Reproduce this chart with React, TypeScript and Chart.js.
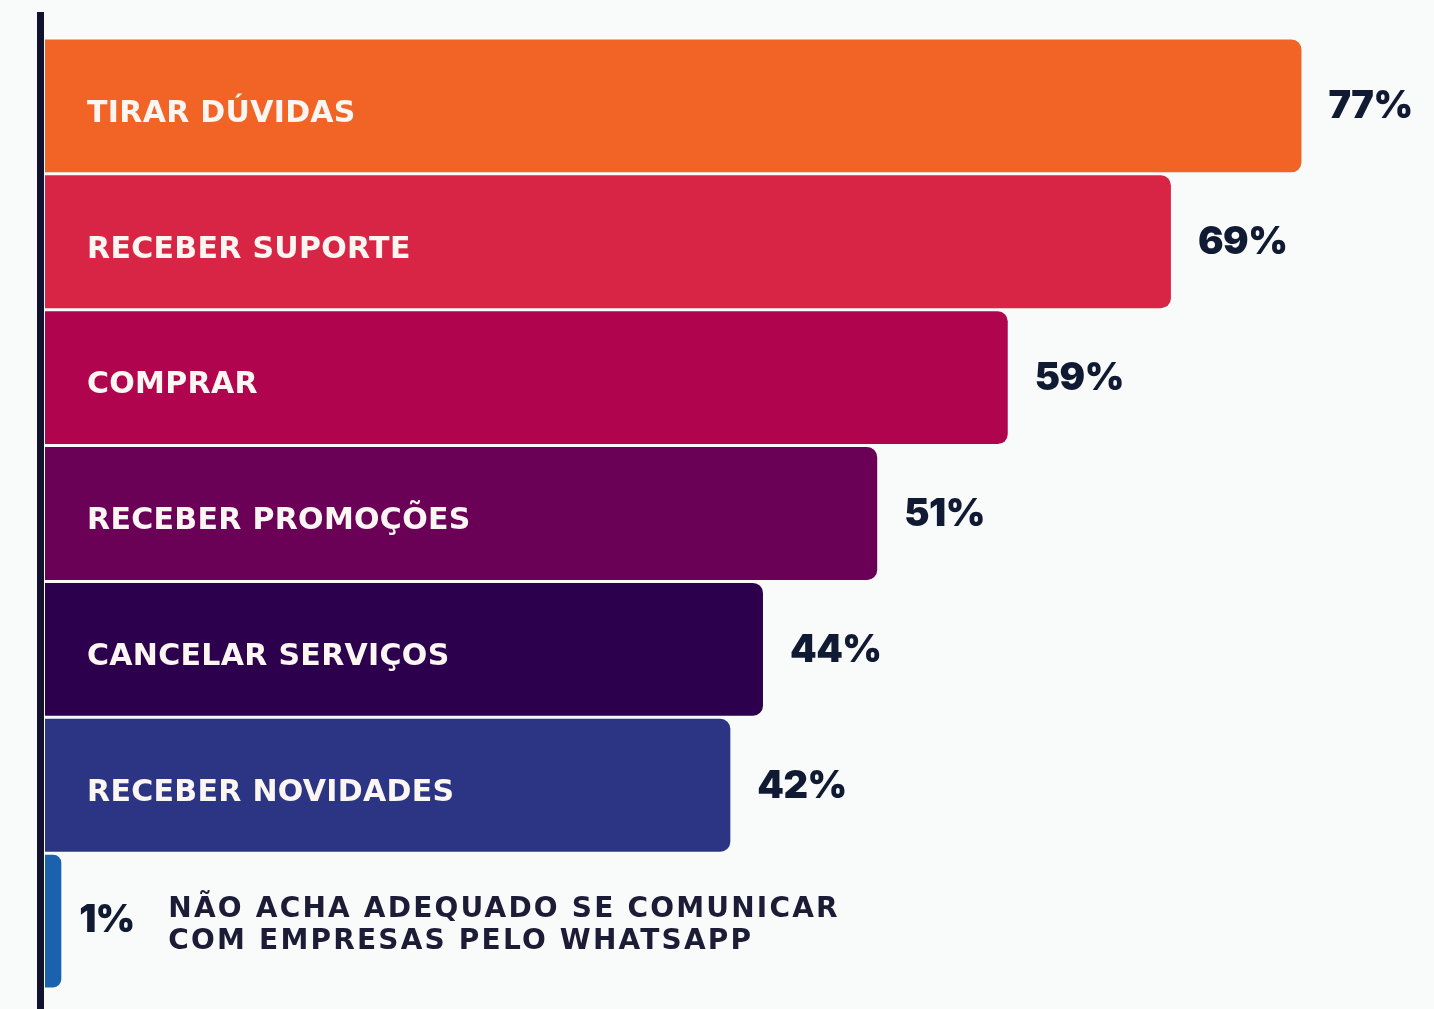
import React, { useEffect, useRef } from "react";
import { Chart, registerables } from "chart.js";

Chart.register(...registerables);

const categories: (string | string[])[] = [
  "TIRAR DÚVIDAS",
  "RECEBER SUPORTE",
  "COMPRAR",
  "RECEBER PROMOÇÕES",
  "CANCELAR SERVIÇOS",
  "RECEBER NOVIDADES",
  ["NÃO ACHA ADEQUADO SE COMUNICAR", "COM EMPRESAS PELO WHATSAPP"],
];
const values = [77, 69, 59, 51, 44, 42, 1];
const barColors = ["#f26426", "#d92545", "#b0044f", "#6b0156", "#2c004d", "#2b3584", "#1a62ad"];
const valueLabels = values.map((v) => `${v}%`);

const BG = "#f9fafa";
const DARK = "#111a33";
const VALUE_FONT = "900 38px Inter";
const CAT_FONT = "bold 30px 'DejaVu Sans'";
const NOTE_FONT = "bold 28px 'DejaVu Sans'";

const labelPlugin = {
  id: "barLabels",
  beforeDraw(chart: any) {
    const ctx = chart.ctx;
    ctx.save();
    ctx.fillStyle = BG;
    ctx.fillRect(0, 0, chart.width, chart.height);
    ctx.restore();
  },
  afterDatasetsDraw(chart: any) {
    const ctx = chart.ctx;
    const meta = chart.getDatasetMeta(0);
    const area = chart.chartArea;
    ctx.save();
    // vertical axis line
    ctx.fillStyle = "#12112e";
    ctx.fillRect(area.left - 8, 12, 7, chart.height - 12);
    ctx.textBaseline = "middle";
    ctx.textAlign = "left";
    meta.data.forEach((bar: any, i: number) => {
      const v = values[i];
      const cat = categories[i];
      if (v >= 10) {
        ctx.fillStyle = "#fbf6f1";
        ctx.font = CAT_FONT;
        (ctx as any).letterSpacing = "0.3px";
        ctx.fillText(cat as string, bar.base + 42, bar.y + 8);
        ctx.fillStyle = DARK;
        ctx.font = VALUE_FONT;
        (ctx as any).letterSpacing = "-0.5px";
        ctx.fillText(valueLabels[i], bar.x + 27, bar.y + 1);
      } else {
        ctx.fillStyle = DARK;
        ctx.font = VALUE_FONT;
        (ctx as any).letterSpacing = "-1px";
        ctx.fillText(valueLabels[i], bar.x + 18, bar.y);
        ctx.fillStyle = "#1c1c36";
        ctx.font = NOTE_FONT;
        (ctx as any).letterSpacing = "2.2px";
        const lines = Array.isArray(cat) ? cat : [cat];
        lines.forEach((ln, k) => {
          ctx.fillText(ln, bar.x + 107, bar.y - 11 + k * 32);
        });
      }
    });
    ctx.restore();
  },
};

export default function App() {
  const ref = useRef<HTMLCanvasElement>(null);
  useEffect(() => {
    let chart: Chart | null = null;
    let cancelled = false;
    const build = () => {
      if (cancelled || !ref.current) return;
      chart = new Chart(ref.current, {
        type: "bar",
        data: {
          labels: categories.map((c) => (Array.isArray(c) ? c.join(" ") : c)),
          datasets: [
            {
              data: values,
              backgroundColor: barColors,
              borderRadius: 10,
              borderSkipped: "start",
              barPercentage: 0.978,
              categoryPercentage: 1,
            },
          ],
        },
        options: {
          indexAxis: "y",
          responsive: false,
          animation: false,
          layout: { padding: { left: 45, top: 38, bottom: 20, right: 2 } },
          plugins: { legend: { display: false }, tooltip: { enabled: false } },
          scales: {
            x: { display: false, min: 0, max: 85 },
            y: { display: false },
          },
        },
        plugins: [labelPlugin],
      });
    };
    const fonts = (document as any).fonts;
    if (fonts && fonts.load) {
      Promise.all([fonts.load(VALUE_FONT, "77%"), fonts.load(CAT_FONT, "A"), fonts.load(NOTE_FONT, "A")])
        .catch(() => null)
        .then(build);
    } else {
      build();
    }
    return () => {
      cancelled = true;
      if (chart) chart.destroy();
    };
  }, []);
  return (
    <div style={{ position: "absolute", left: 0, top: 0, width: 1434, height: 1009, background: BG }}>
      <canvas ref={ref} width={1434} height={1009} />
    </div>
  );
}
